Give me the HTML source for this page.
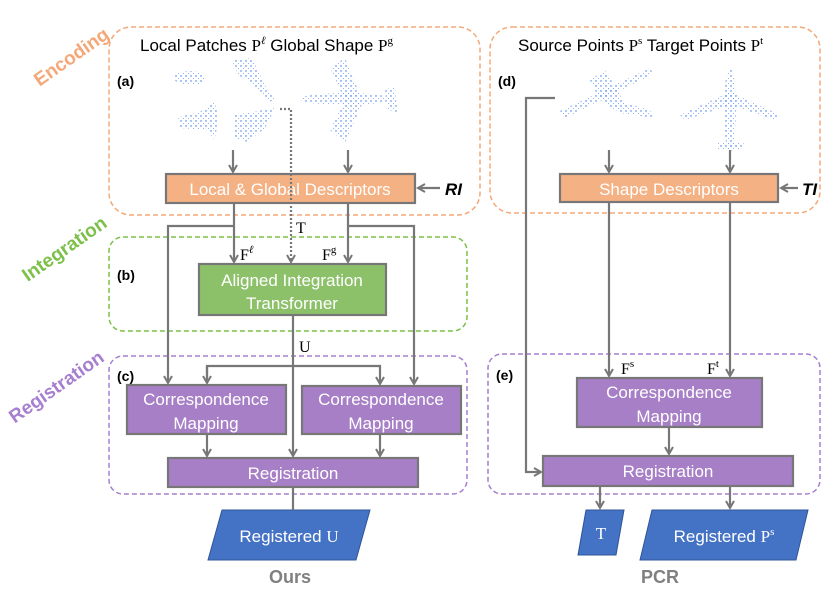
<!DOCTYPE html>
<html><head><meta charset="utf-8"><style>
body{margin:0;background:#fff;}
svg{display:block;font-family:"Liberation Sans",sans-serif;}
.bx{stroke:#777;stroke-width:2.2;}
.wt{fill:#fff;font-size:17px;text-anchor:middle;}
.ln{stroke:#777;stroke-width:2.2;fill:none;}
.mt{font-family:"Liberation Serif",serif;font-size:16px;fill:#000;}
</style></head><body>
<svg width="830" height="601" viewBox="0 0 830 601">
<defs>
<marker id="a" markerWidth="10" markerHeight="10" refX="8" refY="5" orient="auto" markerUnits="userSpaceOnUse"><path d="M1,1 L8,5 L1,9" fill="none" stroke="#777" stroke-width="2"/></marker>
<pattern id="d" width="5" height="5" patternUnits="userSpaceOnUse"><circle cx="1" cy="1" r="0.7" fill="#2f6fe6"/><circle cx="3.5" cy="3.5" r="0.5" fill="#6a9af0"/></pattern>
</defs>
<rect x="109" y="27" width="371" height="188" rx="22" fill="none" stroke="#f4a878" stroke-width="1.5" stroke-dasharray="5,3"/>
<rect x="490" y="27" width="330" height="186" rx="22" fill="none" stroke="#f4a878" stroke-width="1.5" stroke-dasharray="5,3"/>
<rect x="109" y="237" width="358" height="94" rx="14" fill="none" stroke="#7cc04a" stroke-width="1.5" stroke-dasharray="5,3"/>
<rect x="109" y="356" width="358" height="138" rx="14" fill="none" stroke="#a77fd0" stroke-width="1.5" stroke-dasharray="5,3"/>
<rect x="488" y="354" width="332" height="140" rx="14" fill="none" stroke="#a77fd0" stroke-width="1.5" stroke-dasharray="5,3"/>
<text x="75" y="62" transform="rotate(-35 75 62)" text-anchor="middle" fill="#f4a878" font-size="19" font-weight="bold">Encoding</text>
<text x="68" y="254" transform="rotate(-35 68 254)" text-anchor="middle" fill="#7cc04a" font-size="19" font-weight="bold">Integration</text>
<text x="60" y="392" transform="rotate(-35 60 392)" text-anchor="middle" fill="#a77fd0" font-size="19" font-weight="bold">Registration</text>
<text x="140" y="51" font-size="17">Local Patches <tspan font-family="Liberation Serif">P</tspan><tspan font-family="Liberation Serif" font-size="11" dy="-7" font-style="italic">ℓ</tspan><tspan dy="7"> Global Shape </tspan><tspan font-family="Liberation Serif">P</tspan><tspan font-family="Liberation Serif" font-size="11" dy="-7">g</tspan></text>
<text x="518" y="51" font-size="17">Source Points <tspan font-family="Liberation Serif">P</tspan><tspan font-family="Liberation Serif" font-size="11" dy="-7">s</tspan><tspan dy="7">  Target Points </tspan><tspan font-family="Liberation Serif">P</tspan><tspan font-family="Liberation Serif" font-size="11" dy="-7">t</tspan></text>
<text x="117" y="86" font-size="14" font-weight="bold">(a)</text>
<text x="498" y="86" font-size="14" font-weight="bold">(d)</text>
<text x="117" y="280" font-size="14" font-weight="bold">(b)</text>
<text x="117" y="381" font-size="14" font-weight="bold">(c)</text>
<text x="496" y="380" font-size="14" font-weight="bold">(e)</text>
<g fill="url(#d)">
<ellipse cx="190" cy="78" rx="16" ry="7"/>
<path d="M232,60 L252,58 L265,85 L275,100 L268,102 L250,82 L238,75Z"/>
<path d="M178,117 L198,113 L215,102 L218,118 L215,140 L206,130 L180,128Z"/>
<path d="M235,115 L275,108 L265,128 L248,142 L235,138Z"/>
<ellipse cx="345" cy="99" rx="45" ry="6"/>
<path d="M330,68 L345,58 L360,95 L345,100Z"/>
<path d="M330,130 L345,143 L362,104 L345,100Z"/>
<path d="M385,90 L395,86 L397,112 L388,110Z"/>
<path d="M558,112 L650,68 L653,74 L565,118Z"/>
<path d="M590,80 L605,70 L625,103 L650,110 L655,118 L620,113 L600,100Z"/>
<ellipse cx="730" cy="110" rx="6" ry="42"/>
<path d="M680,115 L730,92 L780,115 L775,120 L730,105 L685,120Z"/>
<path d="M716,142 L744,142 L742,150 L718,150Z"/>
</g>
<rect class="bx" x="166" y="174" width="249" height="29" fill="#f4b183"/>
<text class="wt" x="290" y="195">Local &amp; Global Descriptors</text>
<rect class="bx" x="560" y="174" width="218" height="28" fill="#f4b183"/>
<text class="wt" x="669" y="195">Shape Descriptors</text>
<rect class="bx" x="199" y="264" width="187" height="51" fill="#8cc16a"/>
<text class="wt" x="292" y="286">Aligned Integration</text><text class="wt" x="292" y="309">Transformer</text>
<rect class="bx" x="127" y="385" width="159" height="49" fill="#a77fc6"/>
<text class="wt" x="206" y="405">Correspondence</text><text class="wt" x="206" y="429">Mapping</text>
<rect class="bx" x="302" y="386" width="159" height="48" fill="#a77fc6"/>
<text class="wt" x="381" y="405">Correspondence</text><text class="wt" x="381" y="429">Mapping</text>
<rect class="bx" x="168" y="458" width="250" height="29" fill="#a77fc6"/>
<text class="wt" x="293" y="479">Registration</text>
<rect class="bx" x="577" y="378" width="185" height="49" fill="#a77fc6"/>
<text class="wt" x="669" y="398">Correspondence</text><text class="wt" x="669" y="422">Mapping</text>
<rect class="bx" x="543" y="456" width="250" height="30" fill="#a77fc6"/>
<text class="wt" x="668" y="477">Registration</text>
<polygon points="222,510 370,510 356,560 208,560" fill="#4472c4" stroke="#2f5597" stroke-width="1"/>
<text class="wt" x="289" y="542">Registered <tspan font-family="Liberation Serif">U</tspan></text>
<polygon points="586,510 624,510 616,555 578,555" fill="#4472c4" stroke="#2f5597" stroke-width="1"/>
<text class="wt" x="601" y="539" font-family="Liberation Serif">T</text>
<polygon points="652,510 808,510 796,560 640,560" fill="#4472c4" stroke="#2f5597" stroke-width="1"/>
<text class="wt" x="724" y="542">Registered <tspan font-family="Liberation Serif">P</tspan><tspan font-family="Liberation Serif" font-size="11" dy="-7">s</tspan></text>
<path class="ln" d="M233,150 V172" marker-end="url(#a)"/>
<path class="ln" d="M348,150 V172" marker-end="url(#a)"/>
<path d="M280,109 H291 V262" fill="none" stroke="#777" stroke-width="2.2" stroke-dasharray="2,2" marker-end="url(#a)"/>
<path class="ln" d="M234,203 V262" marker-end="url(#a)"/>
<path class="ln" d="M348,203 V262" marker-end="url(#a)"/>
<path class="ln" d="M234,226 H168 V383" marker-end="url(#a)"/>
<path class="ln" d="M348,226 H414 V384" marker-end="url(#a)"/>
<path class="ln" d="M293,315 V456" marker-end="url(#a)"/>
<path class="ln" d="M207,383 V366 H380 V384" marker-end="url(#a)"/>
<path class="ln" d="M207,366 V383" marker-end="url(#a)"/>
<path class="ln" d="M207,434 V456" marker-end="url(#a)"/>
<path class="ln" d="M380,434 V456" marker-end="url(#a)"/>
<path class="ln" d="M293,487 V510"/>
<path class="ln" d="M440,188 H418" marker-end="url(#a)"/>
<text x="445" y="195" font-size="17" font-weight="bold" font-style="italic">RI</text>
<text class="mt" x="296" y="233">T</text>
<text class="mt" x="240" y="260">F<tspan font-size="11" dy="-7" font-style="italic">ℓ</tspan></text>
<text class="mt" x="322" y="260">F<tspan font-size="11" dy="-7">g</tspan></text>
<text class="mt" x="299" y="352">U</text>
<path class="ln" d="M609,150 V172" marker-end="url(#a)"/>
<path class="ln" d="M730,150 V172" marker-end="url(#a)"/>
<path class="ln" d="M609,202 V376" marker-end="url(#a)"/>
<path class="ln" d="M730,202 V376" marker-end="url(#a)"/>
<path class="ln" d="M555,98 H526 V472 H541" marker-end="url(#a)"/>
<path class="ln" d="M669,427 V454" marker-end="url(#a)"/>
<path class="ln" d="M600,486 V508" marker-end="url(#a)"/>
<path class="ln" d="M730,486 V508" marker-end="url(#a)"/>
<path class="ln" d="M798,188 H781" marker-end="url(#a)"/>
<text x="802" y="195" font-size="17" font-weight="bold" font-style="italic">TI</text>
<text class="mt" x="621" y="374">F<tspan font-size="11" dy="-7">s</tspan></text>
<text class="mt" x="707" y="374">F<tspan font-size="11" dy="-7">t</tspan></text>
<text x="290" y="583" text-anchor="middle" font-size="18" font-weight="bold" fill="#808080">Ours</text>
<text x="660" y="583" text-anchor="middle" font-size="18" font-weight="bold" fill="#808080">PCR</text>
</svg>
</body></html>
